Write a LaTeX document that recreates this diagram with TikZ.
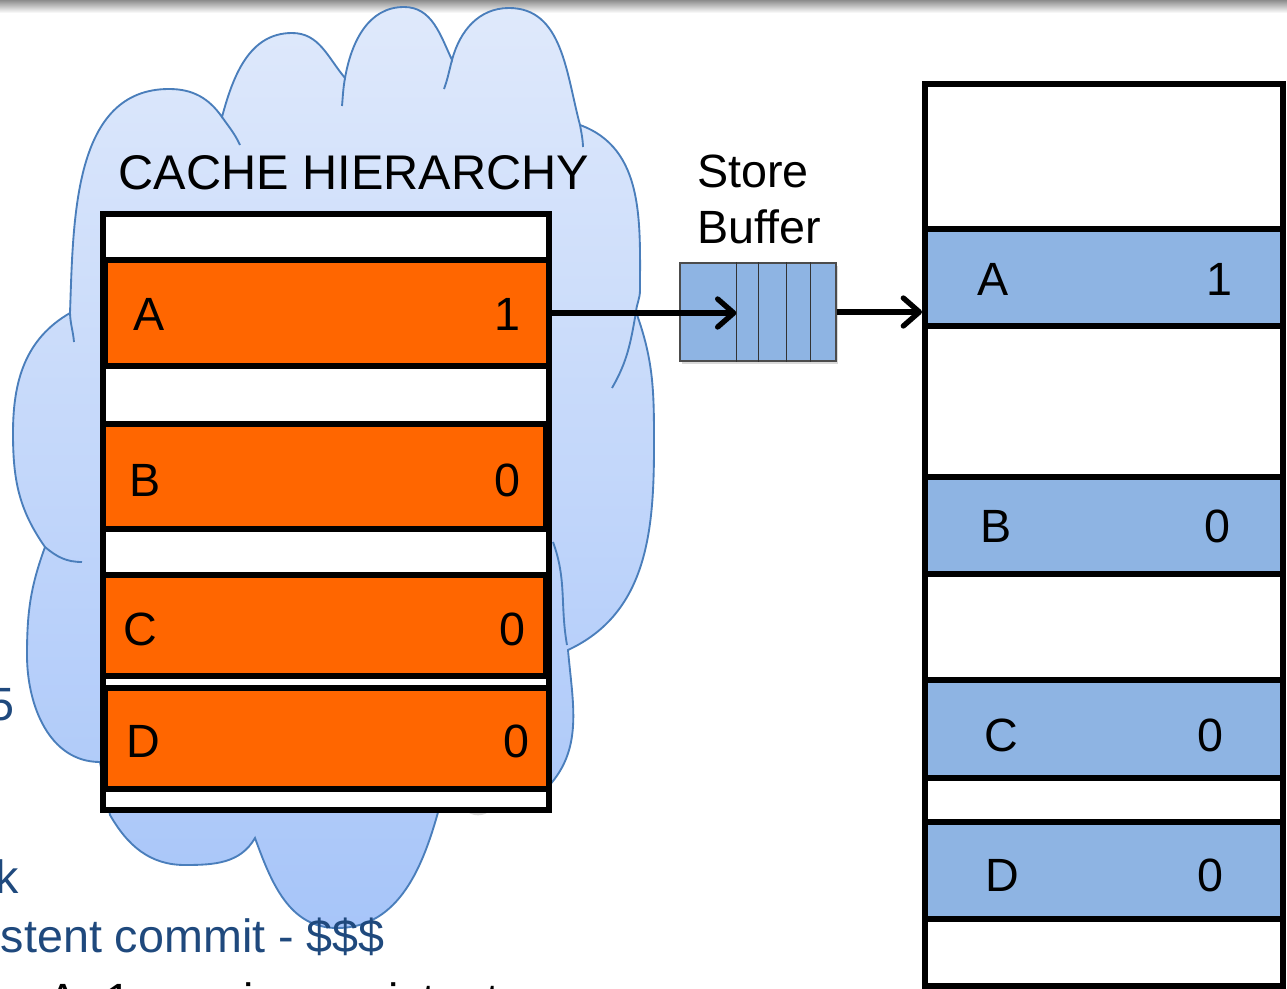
\documentclass[tikz,border=0pt]{standalone}
\usepackage{fontspec}
\setmainfont{Liberation Sans}
\usetikzlibrary{arrows.meta,shadows}
\definecolor{orng}{HTML}{FF6600}
\definecolor{memblue}{HTML}{8EB4E3}
\definecolor{cloudline}{HTML}{4A7EBB}
\definecolor{cloudtop}{HTML}{DFE9FB}
\definecolor{cloudbot}{HTML}{A7C5F9}
\definecolor{txtblue}{HTML}{1F497D}
\definecolor{blob}{HTML}{2A5587}
\begin{document}
\begin{tikzpicture}[x=0.75pt,y=0.75pt,
  shad/.style={drop shadow={shadow xshift=1.5pt,shadow yshift=-2.5pt,opacity=0.3}},
  tablebox/.style={draw=black,line width=4.5pt,fill=white,inner sep=0pt,shad},
  orow/.style={draw=black,line width=4.5pt,fill=orng,inner sep=0pt,shad},
  brow/.style={draw=black,line width=4.5pt,fill=memblue,inner sep=0pt,shad},
  sbuf/.style={draw=black!70,line width=1pt,fill=memblue,inner sep=0pt,shad},
  sbline/.style={draw=black!80,line width=1pt},
  arr/.style={line width=4pt,-{Straight Barb[length=12pt,width=21pt,round]}},
  lbl/.style={font=\fontsize{35}{42}\selectfont,inner sep=0pt,anchor=base},
  bluetxt/.style={lbl,text=txtblue},
  cloudfill/.style={draw=cloudline,line width=1.4pt,top color=cloudtop,bottom color=cloudbot},
  cloudstub/.style={draw=cloudline,line width=1.4pt}]
\useasboundingbox (0,0) rectangle (1287,-988);
% slide header shadow
\shade[top color=black!45,bottom color=white] (0,0) rectangle (1287,-13);
% cloud
\path[cloudfill] (70,-313) to[out=88,in=180] (169,-89) to[out=0,in=125] (222,-117)
 to[out=75,in=180] (292,-33) to[out=0,in=130] (345,-78)
 to[out=80,in=180] (404,-7) to[out=0,in=115] (452,-60)
 to[out=75,in=180] (509,-8) to[out=0,in=105] (580,-125)
 to[out=-20,in=90] (640,-290) to[out=-90,in=85] (636,-312)
 to[out=-70,in=90] (654,-446) to[out=-90,in=25] (568,-650)
 to[out=-85,in=45] (545,-790) -- (440,-805)
 to[out=-105,in=0] (337,-928) to[out=180,in=-70] (255,-838)
 to[out=-120,in=0] (185,-865) to[out=180,in=-60] (110,-815)
 -- (100,-762)
 to[out=180,in=-90] (27,-655) to[out=90,in=-110] (45,-547)
 to[out=125,in=-90] (13,-433) to[out=90,in=210] (70,-313) -- cycle;
\draw[cloudstub] (70,-313) to[out=-88,in=95] (74,-342);
\draw[cloudstub] (222,-117) to[out=-55,in=115] (240,-145);
\draw[cloudstub] (345,-78) to[out=-100,in=85] (342,-106);
\draw[cloudstub] (452,-60) to[out=-105,in=70] (444,-89);
\draw[cloudstub] (580,-125) to[out=-80,in=92] (583,-147);
\draw[cloudstub] (636,-312) to[out=-100,in=60] (612,-388);
\draw[cloudstub] (553,-542) to[out=-70,in=100] (567,-645);
\draw[cloudstub] (45,-547) to[out=-40,in=180] (82,-562);
% slide text fragments
\node[bluetxt,anchor=base east] (t5) at (15,-720) {5};
\node[bluetxt,anchor=base east] (tk) at (19,-893) {k};
\node[bluetxt,anchor=base east] (tc) at (385,-952) {stent commit - \$\$\$};
\node[lbl,anchor=base west] (tb) at (47,-1016) {A=1 now is consistent};
% dark blob behind table
\fill[blob,shad] (476,-794) circle [radius=18];
% cache hierarchy
\node[lbl,font=\fontsize{36.5}{42}\selectfont] (title) at (354,-190) {CACHE HIERARCHY};
\node[tablebox,minimum width=334.5pt,minimum height=447pt] (cache) at (326,-512) {};
\node[orow,minimum width=333pt,minimum height=79.5pt] (cA) at (327,-313) {};
\node[orow,minimum width=332.25pt,minimum height=78.75pt] (cB) at (324.5,-476.5) {};
\node[orow,minimum width=332.25pt,minimum height=75.75pt] (cC) at (324.5,-625.5) {};
\node[orow,minimum width=333pt,minimum height=75.75pt] (cD) at (327,-738.5) {};
\node[lbl] (cAk) at (149,-330) {A};
\node[lbl] (cAv) at (507,-330) {1};
\node[lbl] (cBk) at (145,-496) {B};
\node[lbl] (cBv) at (507,-496) {0};
\node[lbl] (cCk) at (140,-645) {C};
\node[lbl] (cCv) at (512,-645) {0};
\node[lbl] (cDk) at (143,-757) {D};
\node[lbl] (cDv) at (516,-757) {0};
% store buffer
\node[lbl,anchor=north west,align=left] (sblabel) at (697,-155) {Store\\Buffer};
\node[sbuf,minimum width=117pt,minimum height=73.5pt] (sb) at (758,-312) {};
\foreach \dx in {42.75,59.25,80.25,98.25}
  \draw[sbline] ([xshift=\dx pt]sb.north west) -- ([xshift=\dx pt]sb.south west);
\coordinate (sbdiv) at ([xshift=42.75pt]sb.west);
% memory
\node[tablebox,minimum width=268.5pt,minimum height=676.5pt] (mem) at (1104,-535) {};
\node[brow,minimum width=268.5pt,minimum height=72.75pt] (mA) at (1104,-277.5) {};
\node[brow,minimum width=268.5pt,minimum height=72.75pt] (mB) at (1104,-525.5) {};
\node[brow,minimum width=268.5pt,minimum height=73.5pt] (mC) at (1104,-729) {};
\node[brow,minimum width=268.5pt,minimum height=72.75pt] (mD) at (1104,-870.5) {};
\node[lbl] (mAk) at (993,-295) {A};
\node[lbl] (mAv) at (1219,-295) {1};
\node[lbl] (mBk) at (996,-542) {B};
\node[lbl] (mBv) at (1217,-542) {0};
\node[lbl] (mCk) at (1001,-751) {C};
\node[lbl] (mCv) at (1210,-751) {0};
\node[lbl] (mDk) at (1002,-891) {D};
\node[lbl] (mDv) at (1210,-891) {0};
% arrows
\draw[arr] (cA.east) -- (cA.east -| sbdiv);
\draw[arr] (sb.east) -- (sb.east -| mem.west);
\end{tikzpicture}
\end{document}
